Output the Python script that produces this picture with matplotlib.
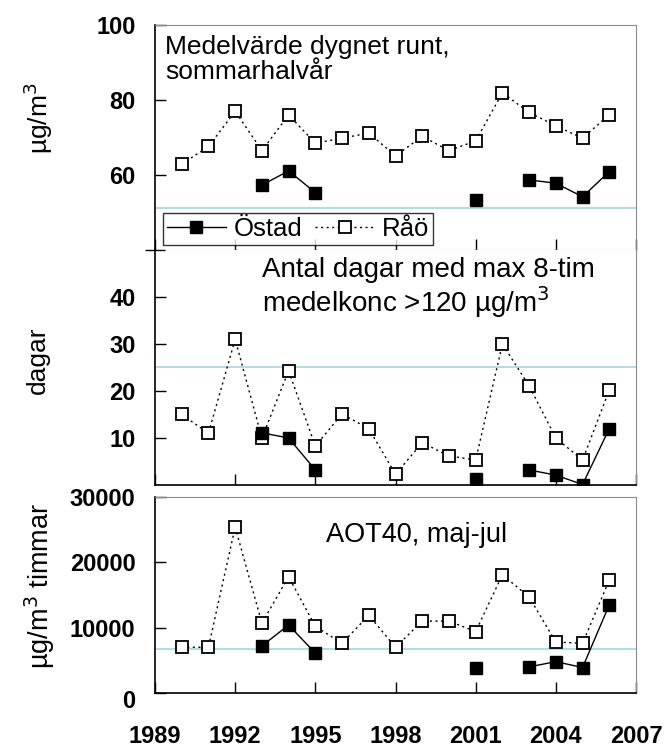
import numpy as np
import matplotlib
matplotlib.use("Agg")
import matplotlib.pyplot as plt
from matplotlib.lines import Line2D

plt.rcParams["font.family"] = ["Liberation Sans", "DejaVu Sans"]

nan = np.nan
years = list(range(1990, 2007))

# Medelvärde dygnet runt, sommarhalvår (µg/m3)
medel_raao = [62.9, 67.6, 77.0, 66.5, 76.0, 68.5, 69.8, 71.2, 65.1, 70.3,
              66.5, 69.1, 81.9, 76.7, 73.1, 69.8, 76.1]
medel_ostad = [nan, nan, nan, 57.3, 61.1, 55.3, nan, nan, nan, nan,
               nan, 53.3, nan, 58.7, 57.8, 54.2, 60.9]
medel_ref = 51.2

# Antal dagar med max 8-tim medelkonc >120
dagar_raao = [15, 11, 31, 10, 24.3, 8.3, 15.1, 12, 2.3, 9,
              6.2, 5.3, 30, 21.1, 10, 5.3, 20.2]
dagar_ostad = [nan, nan, nan, 11.1, 10, 3.2, nan, nan, nan, nan,
               nan, 1.2, nan, 3.2, 2.1, 0.1, 12]
dagar_ref = 25

# AOT40, maj-jul
aot_raao = [7000, 7000, 25400, 10700, 17800, 10200, 7600, 11900, 7000, 11000,
            11000, 9400, 18100, 14700, 7800, 7600, 17300]
aot_ostad = [nan, nan, nan, 7200, 10400, 6100, nan, nan, nan, nan,
             nan, 3900, nan, 4000, 4800, 3900, 13500]
aot_ref = 6800

xticks = [1989, 1992, 1995, 1998, 2001, 2004, 2007]

W, H = 665, 750
fig = plt.figure(figsize=(W / 100, H / 100), dpi=100)


def px_axes(left, top, right, bottom):
    return fig.add_axes([left / W, 1 - bottom / H, (right - left) / W, (bottom - top) / H])


ax1 = px_axes(155, 25, 636, 250)
ax2 = px_axes(155, 250, 636, 485)
ax3 = px_axes(155, 497, 636, 693)

gray = "#8a8a8a"
cyan = "#a9dbe3"


def style(ax, ylim, yticks, labels=True):
    ax.set_xlim(1989, 2007)
    ax.set_ylim(*ylim)
    ax.set_xticks(xticks)
    ax.set_yticks(yticks)
    for s in ["top", "right"]:
        ax.spines[s].set_color(gray)
        ax.spines[s].set_linewidth(0.8)
    ax.spines["left"].set_linewidth(1.2)
    ax.spines["bottom"].set_linewidth(1.2)
    ax.tick_params(axis="both", direction="in", length=8, width=1,
                   labelsize=17)
    ax.tick_params(axis="y", pad=14)
    ax.tick_params(axis="x", pad=23)
    for t in ax.get_yticklabels() + ax.get_xticklabels():
        t.set_fontweight("bold")
    if not labels:
        ax.tick_params(axis="x", labelbottom=False)


def draw(ax, raao, ostad, ref):
    ax.axhline(ref, color=cyan, lw=1.3, zorder=1)
    ax.plot(years, raao, color="black", ls=(0, (1.5, 2.5)), lw=1,
            marker="s", ms=9, mfc="white", mec="black", mew=1.3, zorder=3)
    ax.plot(years, ostad, color="black", ls="-", lw=1,
            marker="s", ms=9, mfc="black", mec="black", zorder=4)


draw(ax1, medel_raao, medel_ostad, medel_ref)
style(ax1, (40, 100), [60, 80, 100], labels=False)
ax1.spines["bottom"].set_color(gray)
ax1.spines["bottom"].set_linewidth(0.8)
ax1.text(10 / 481, 0.955, "Medelvärde dygnet runt,\nsommarhalvår", transform=ax1.transAxes,
         fontsize=19, va="top", ha="left", linespacing=1.05)

draw(ax2, dagar_raao, dagar_ostad, dagar_ref)
style(ax2, (0, 50), [10, 20, 30, 40], labels=False)
ax2.spines["top"].set_visible(False)
ax2.set_yticks([50], minor=True)
ax2.tick_params(axis="y", which="minor", direction="inout", length=14, width=1)
ax2.text(107 / 481, 0.97, "Antal dagar med max 8-tim\nmedelkonc >120 µg/m$^3$", transform=ax2.transAxes,
         fontsize=20, va="top", ha="left", linespacing=1.05)

draw(ax3, aot_raao, aot_ostad, aot_ref)
style(ax3, (0, 30000), [0, 10000, 20000, 30000])
ax3.set_yticklabels(["", "10000", "20000", "30000"])
ax3.annotate("0", xy=(0, 0), xycoords=("axes fraction", "data"),
             xytext=(-20, -8), textcoords="offset pixels", ha="right",
             va="center", fontsize=17, fontweight="bold")
ax3.text(171 / 481, 0.87, "AOT40, maj-jul", transform=ax3.transAxes,
         fontsize=19.5, va="top", ha="left")

fig.text(38 / W, 1 - 118 / H, "µg/m$^3$", rotation=90, fontsize=19,
         ha="center", va="center")
fig.text(38 / W, 1 - 360 / H, "dagar", rotation=90, fontsize=19,
         ha="center", va="center")
fig.text(40 / W, 1 - 586 / H, "µg/m$^3$ timmar", rotation=90, fontsize=19.5,
         ha="center", va="center")

handles = [
    Line2D([], [], color="black", lw=1, marker="s", ms=9, mfc="black"),
    Line2D([], [], color="black", ls=(0, (1.5, 2.5)), lw=1, marker="s", ms=9,
           mfc="white", mec="black", mew=1.3),
]
leg = ax1.legend(handles, ["Östad", "Råö"], loc="lower left", ncol=2,
                 bbox_to_anchor=(8 / 481, 5 / 225), fontsize=18.5, frameon=True,
                 fancybox=False, edgecolor="black", handlelength=2.3,
                 handletextpad=0.3, columnspacing=0.5, borderpad=0.15,
                 borderaxespad=0)
leg.get_frame().set_linewidth(1)

fig.savefig("out.png", dpi=100)
